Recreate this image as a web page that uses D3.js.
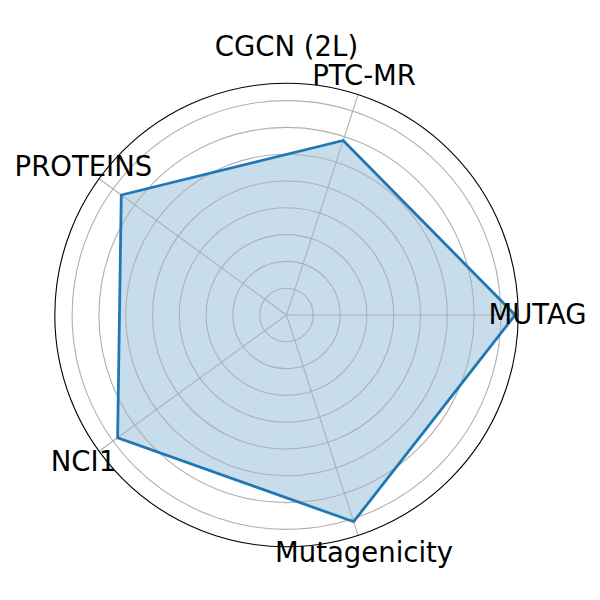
<!DOCTYPE html>
<html>
<head>
<meta charset="utf-8">
<script src="https://cdn.jsdelivr.net/npm/d3@7"></script>
<style>
  html, body { margin: 0; padding: 0; background: #fff; }
  svg { display: block; }
  text { font-family: "DejaVu Sans", sans-serif; }
</style>
</head>
<body>
<svg id="chart" width="600" height="600"></svg>
<script>
const categories = ["MUTAG", "PTC-MR", "PROTEINS", "NCI1", "Mutagenicity"];
const values = [0.853, 0.685, 0.762, 0.779, 0.811];
const radialTicks = [0.1, 0.2, 0.3, 0.4, 0.5, 0.6, 0.7, 0.8];
const rMax = 0.8646;
const title = "CGCN (2L)";

const svg = d3.select("#chart");
const cx = 286.5, cy = 315, R = 231.7;
const g = svg.append("g").attr("transform", `translate(${cx},${cy})`);

const r = d3.scaleLinear().domain([0, rMax]).range([0, R]);
const theta = d3.scaleLinear().domain([0, categories.length]).range([0, 2 * Math.PI]);

const radial = d3.lineRadial()
  .angle((d, i) => Math.PI / 2 - theta(i))
  .radius(d => r(d))
  .curve(d3.curveLinearClosed);

// fill (below grid)
g.append("path")
  .attr("d", radial(values))
  .attr("fill", "#1f77b4")
  .attr("fill-opacity", 0.25)
  .attr("stroke", "none");

// grid circles
g.selectAll("circle.grid").data(radialTicks).join("circle")
  .attr("class", "grid")
  .attr("r", d => r(d))
  .attr("fill", "none")
  .attr("stroke", "#b0b0b0")
  .attr("stroke-width", 1.1);

// spokes
g.selectAll("line.spoke").data(categories).join("line")
  .attr("class", "spoke")
  .attr("x1", 0).attr("y1", 0)
  .attr("x2", (d, i) => r(rMax) * Math.cos(theta(i)))
  .attr("y2", (d, i) => -r(rMax) * Math.sin(theta(i)))
  .attr("stroke", "#b0b0b0")
  .attr("stroke-width", 1.1);

// line
g.append("path")
  .attr("d", radial(values))
  .attr("fill", "none")
  .attr("stroke", "#1f77b4")
  .attr("stroke-width", 2.78)
  .attr("stroke-linejoin", "miter");

// outer circle
g.append("circle")
  .attr("r", r(rMax))
  .attr("fill", "none")
  .attr("stroke", "#000")
  .attr("stroke-width", 1.1);

// category labels
const labelR = 251;
g.selectAll("text.cat").data(categories).join("text")
  .attr("class", "cat")
  .attr("x", (d, i) => labelR * Math.cos(theta(i)))
  .attr("y", (d, i) => -labelR * Math.sin(theta(i)))
  .attr("dy", 8.5)
  .attr("text-anchor", "middle")
  .attr("font-size", 27.5)
  .attr("fill", "#000")
  .text(d => d);

// title
svg.append("text")
  .attr("x", cx)
  .attr("y", 56)
  .attr("text-anchor", "middle")
  .attr("font-size", 27.5)
  .attr("fill", "#000")
  .text(title);
</script>
</body>
</html>
